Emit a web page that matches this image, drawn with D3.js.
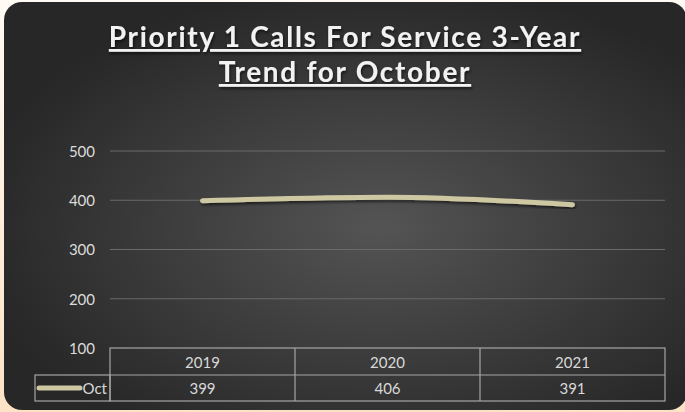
<!DOCTYPE html>
<html>
<head>
<meta charset="utf-8">
<script src="https://cdn.jsdelivr.net/npm/d3@7"></script>
<style>
  html, body { margin: 0; padding: 0; }
  body { width: 685px; height: 412px; overflow: hidden; background: linear-gradient(#fffaf4, #fde2c6); }
  svg { display: block; }
</style>
</head>
<body>
<svg width="685" height="412"></svg>
<script>
// chart data
let years = ["2019", "2020", "2021"];
let octCalls = [399, 406, 391];
let yTicks = [100, 200, 300, 400, 500];
let seriesName = "Oct";
let titleLines = ["Priority 1 Calls For Service 3-Year", "Trend for October"];

let svg = d3.select("svg");
let defs = svg.append("defs");

let grad = defs.append("radialGradient")
    .attr("id", "bg")
    .attr("cx", "55%").attr("cy", "55%").attr("r", "60%");
grad.append("stop").attr("offset", "0%").attr("stop-color", "#545454");
grad.append("stop").attr("offset", "100%").attr("stop-color", "#272727");

let shadow = defs.append("filter").attr("id", "shadow")
    .attr("x", "-10%").attr("y", "-50%").attr("width", "120%").attr("height", "200%");
shadow.append("feDropShadow")
    .attr("dx", 1).attr("dy", 2).attr("stdDeviation", 1.5)
    .attr("flood-color", "#000").attr("flood-opacity", 0.6);

svg.append("rect")
    .attr("x", 4).attr("y", 2)
    .attr("width", 683).attr("height", 408)
    .attr("rx", 18)
    .attr("fill", "url(#bg)");

// title
let title = svg.append("g").attr("filter", "url(#shadow)");
title.selectAll("text")
    .data(titleLines)
    .enter().append("text")
    .attr("x", 345)
    .attr("y", (d, i) => 47 + i * 35)
    .attr("text-anchor", "middle")
    .attr("font-family", "Lato, sans-serif")
    .attr("font-weight", 700)
    .attr("font-size", 28)
    .attr("letter-spacing", 1.7)
    .attr("fill", "#f2f2f2")
    .attr("text-decoration", "underline")
    .text(d => d);

let left = 110, right = 665;
let yScale = d3.scaleLinear()
    .domain([100, 500])
    .range([348, 151]);

let xScale = d3.scaleBand()
    .domain(years)
    .range([left, right]);

// gridlines
svg.append("g")
    .selectAll("line")
    .data(yTicks.slice(1))
    .enter().append("line")
    .attr("x1", left).attr("x2", right)
    .attr("y1", d => yScale(d)).attr("y2", d => yScale(d))
    .attr("stroke", "#6a6a6a")
    .attr("stroke-width", 1);

let yAxis = d3.axisLeft(yScale).tickValues(yTicks).tickSize(0).tickPadding(0);
let yg = svg.append("g")
    .attr("transform", "translate(95,0)")
    .call(yAxis);
yg.select(".domain").remove();
yg.selectAll("text")
    .attr("font-family", "Lato, sans-serif")
    .attr("font-size", 15)
    .attr("fill", "#dcdcdc")
    .attr("dy", "0.35em");

// line
let line = d3.line()
    .x((d, i) => xScale(years[i]) + xScale.bandwidth() / 2)
    .y(d => yScale(d))
    .curve(d3.curveMonotoneX);

svg.append("path")
    .datum(octCalls)
    .attr("d", line)
    .attr("fill", "none")
    .attr("stroke", "#cdc7a2")
    .attr("stroke-width", 5)
    .attr("stroke-linecap", "round")
    .attr("filter", "url(#shadow)");

// data table
let rowTop = yScale(100), rowMid = 375, rowBot = 401, legLeft = 35;
let tbl = svg.append("g")
    .attr("stroke", "#a6a6a6")
    .attr("stroke-width", 1.2)
    .attr("fill", "none");
tbl.append("rect")
    .attr("x", left).attr("y", rowTop)
    .attr("width", right - left).attr("height", rowBot - rowTop);
tbl.append("rect")
    .attr("x", legLeft).attr("y", rowMid)
    .attr("width", left - legLeft).attr("height", rowBot - rowMid);
tbl.append("line")
    .attr("x1", left).attr("x2", right)
    .attr("y1", rowMid).attr("y2", rowMid);
tbl.selectAll(".col")
    .data(years.slice(1))
    .enter().append("line")
    .attr("class", "col")
    .attr("x1", d => xScale(d)).attr("x2", d => xScale(d))
    .attr("y1", rowTop).attr("y2", rowBot);

let cellText = (sel) => sel
    .attr("font-family", "Lato, sans-serif")
    .attr("font-size", 15)
    .attr("fill", "#d9d9d9")
    .attr("text-anchor", "middle")
    .attr("dy", "0.35em");

svg.selectAll(".yr")
    .data(years)
    .enter().append("text")
    .attr("class", "yr")
    .attr("x", d => xScale(d) + xScale.bandwidth() / 2)
    .attr("y", (rowTop + rowMid) / 2 + 1)
    .call(cellText)
    .text(d => d);

svg.selectAll(".val")
    .data(octCalls)
    .enter().append("text")
    .attr("class", "val")
    .attr("x", (d, i) => xScale(years[i]) + xScale.bandwidth() / 2)
    .attr("y", (rowMid + rowBot) / 2 + 1)
    .call(cellText)
    .text(d => d);

// legend key
svg.append("line")
    .attr("x1", 39).attr("x2", 80)
    .attr("y1", (rowMid + rowBot) / 2).attr("y2", (rowMid + rowBot) / 2)
    .attr("stroke", "#cdc7a2")
    .attr("stroke-width", 5)
    .attr("stroke-linecap", "round");
svg.append("text")
    .attr("x", 107)
    .attr("y", (rowMid + rowBot) / 2 + 1)
    .call(cellText)
    .attr("text-anchor", "end")
    .text(seriesName);
</script>
</body>
</html>
